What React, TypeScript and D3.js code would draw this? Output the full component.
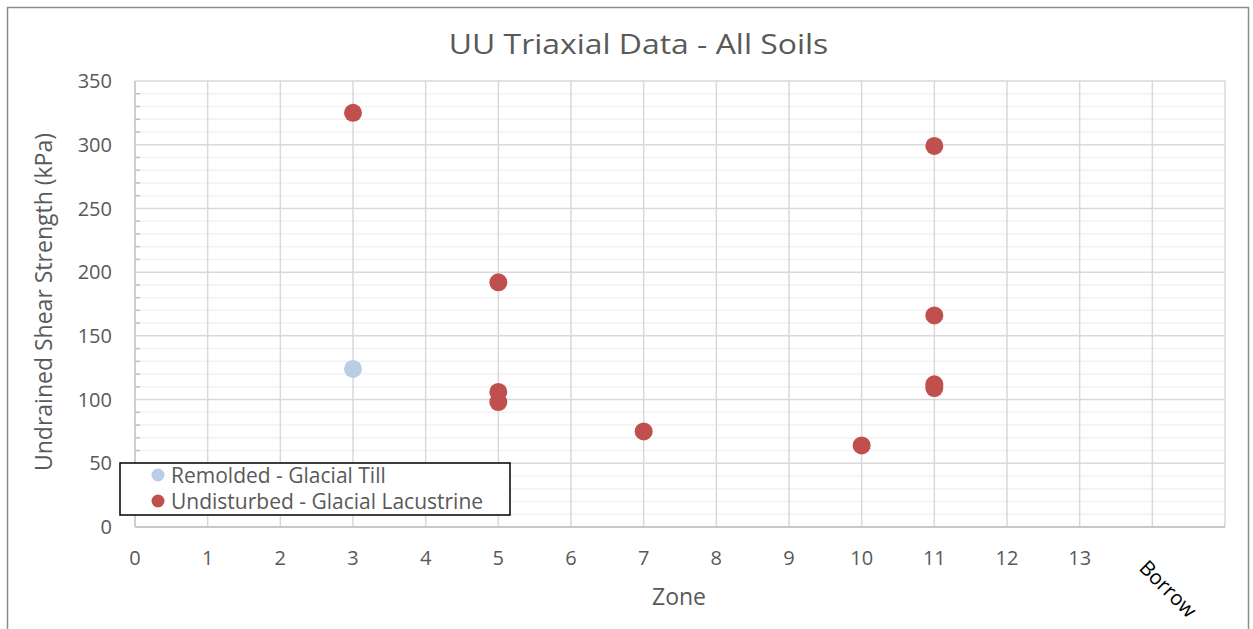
import React from "react";
import * as d3 from "d3";

const remoldedZone = [3];
const remoldedStrength = [124];
const undisturbedZone = [3, 5, 5, 5, 7, 10, 11, 11, 11, 11];
const undisturbedStrength = [325, 192, 106, 98, 75, 64, 299, 166, 112, 109];
const xTickLabels = ["0", "1", "2", "3", "4", "5", "6", "7", "8", "9", "10", "11", "12", "13"];
const yTicks = [0, 50, 100, 150, 200, 250, 300, 350];
const seriesNames = ["Remolded - Glacial Till", "Undisturbed - Glacial Lacustrine"];
const seriesColors = ["#B9CDE5", "#C0504D"];

const W = 1253, H = 629;
const left = 135, right = 1225, top = 81, bottom = 527;
const FONT = "'Open Sans', Lato, sans-serif";
const TXT = "#595959";

export default function App() {
  const x = d3.scaleLinear().domain([0, 15]).range([left, right]);
  const y = d3.scaleLinear().domain([0, 350]).range([bottom, top]);
  const minor = d3.range(0, 351, 10).filter((v) => v % 50 !== 0);
  const vLines = d3.range(1, 16);
  return (
    <svg width={W} height={H} style={{ position: "absolute", left: 0, top: 0, background: "#fff" }} fontFamily={FONT}>
      <rect x={0} y={0} width={W} height={H} fill="#fff" />
      <rect x={7.5} y={7.5} width={1241} height={660} fill="none" stroke="#8c8c8c" strokeWidth={1.5} />
      <text transform="translate(638.5,54) scale(1.14,1)" textAnchor="middle" fontSize={28} fill={TXT}>
        UU Triaxial Data - All Soils
      </text>
      {minor.map((v) => (
        <line key={"m" + v} x1={left} x2={right} y1={y(v)} y2={y(v)} stroke="#F2F2F2" strokeWidth={1.5} />
      ))}
      {yTicks.map((v) => (
        <line key={"g" + v} x1={left} x2={right} y1={y(v)} y2={y(v)} stroke="#D9D9D9" strokeWidth={1.5} />
      ))}
      {vLines.map((v) => (
        <line key={"v" + v} x1={x(v)} x2={x(v)} y1={top} y2={bottom} stroke="#D9D9D9" strokeWidth={1.5} />
      ))}
      {minor.map((v) => (
        <line key={"t" + v} x1={left} x2={left + 5} y1={y(v)} y2={y(v)} stroke="#BFBFBF" strokeWidth={1.5} />
      ))}
      <line x1={left} x2={left} y1={top} y2={bottom} stroke="#BFBFBF" strokeWidth={1.5} />
      <line x1={left} x2={right} y1={bottom} y2={bottom} stroke="#BFBFBF" strokeWidth={1.5} />
      {yTicks.map((v) => (
        <text key={"yl" + v} x={112} y={y(v)} dy="0.36em" textAnchor="end" fontSize={20} fill={TXT}>{v}</text>
      ))}
      {xTickLabels.map((s, i) => (
        <text key={"xl" + i} x={x(i)} y={565} textAnchor="middle" fontSize={20} fill={TXT}>{s}</text>
      ))}
      <text transform="translate(1138,569) rotate(45)" fontSize={20.5} fill="#000">Borrow</text>
      <text x={679} y={605} textAnchor="middle" fontSize={23} fill={TXT}>Zone</text>
      <text transform={`translate(52,302) rotate(-90)`} textAnchor="middle" fontSize={23} fill={TXT}>
        Undrained Shear Strength (kPa)
      </text>
      {remoldedZone.map((z, i) => (
        <circle key={"r" + i} cx={x(z)} cy={y(remoldedStrength[i])} r={9} fill={seriesColors[0]} />
      ))}
      {undisturbedZone.map((z, i) => (
        <circle key={"u" + i} cx={x(z)} cy={y(undisturbedStrength[i])} r={9} fill={seriesColors[1]} />
      ))}
      <rect x={120} y={463} width={390} height={52} fill="#fff" stroke="#000" strokeWidth={1.5} />
      {seriesNames.map((n, i) => (
        <g key={"lg" + i}>
          <circle cx={158} cy={475 + i * 26} r={6.5} fill={seriesColors[i]} />
          <text x={171} y={475 + i * 26} dy="0.36em" fontSize={21} fill={TXT}>{n}</text>
        </g>
      ))}
    </svg>
  );
}
